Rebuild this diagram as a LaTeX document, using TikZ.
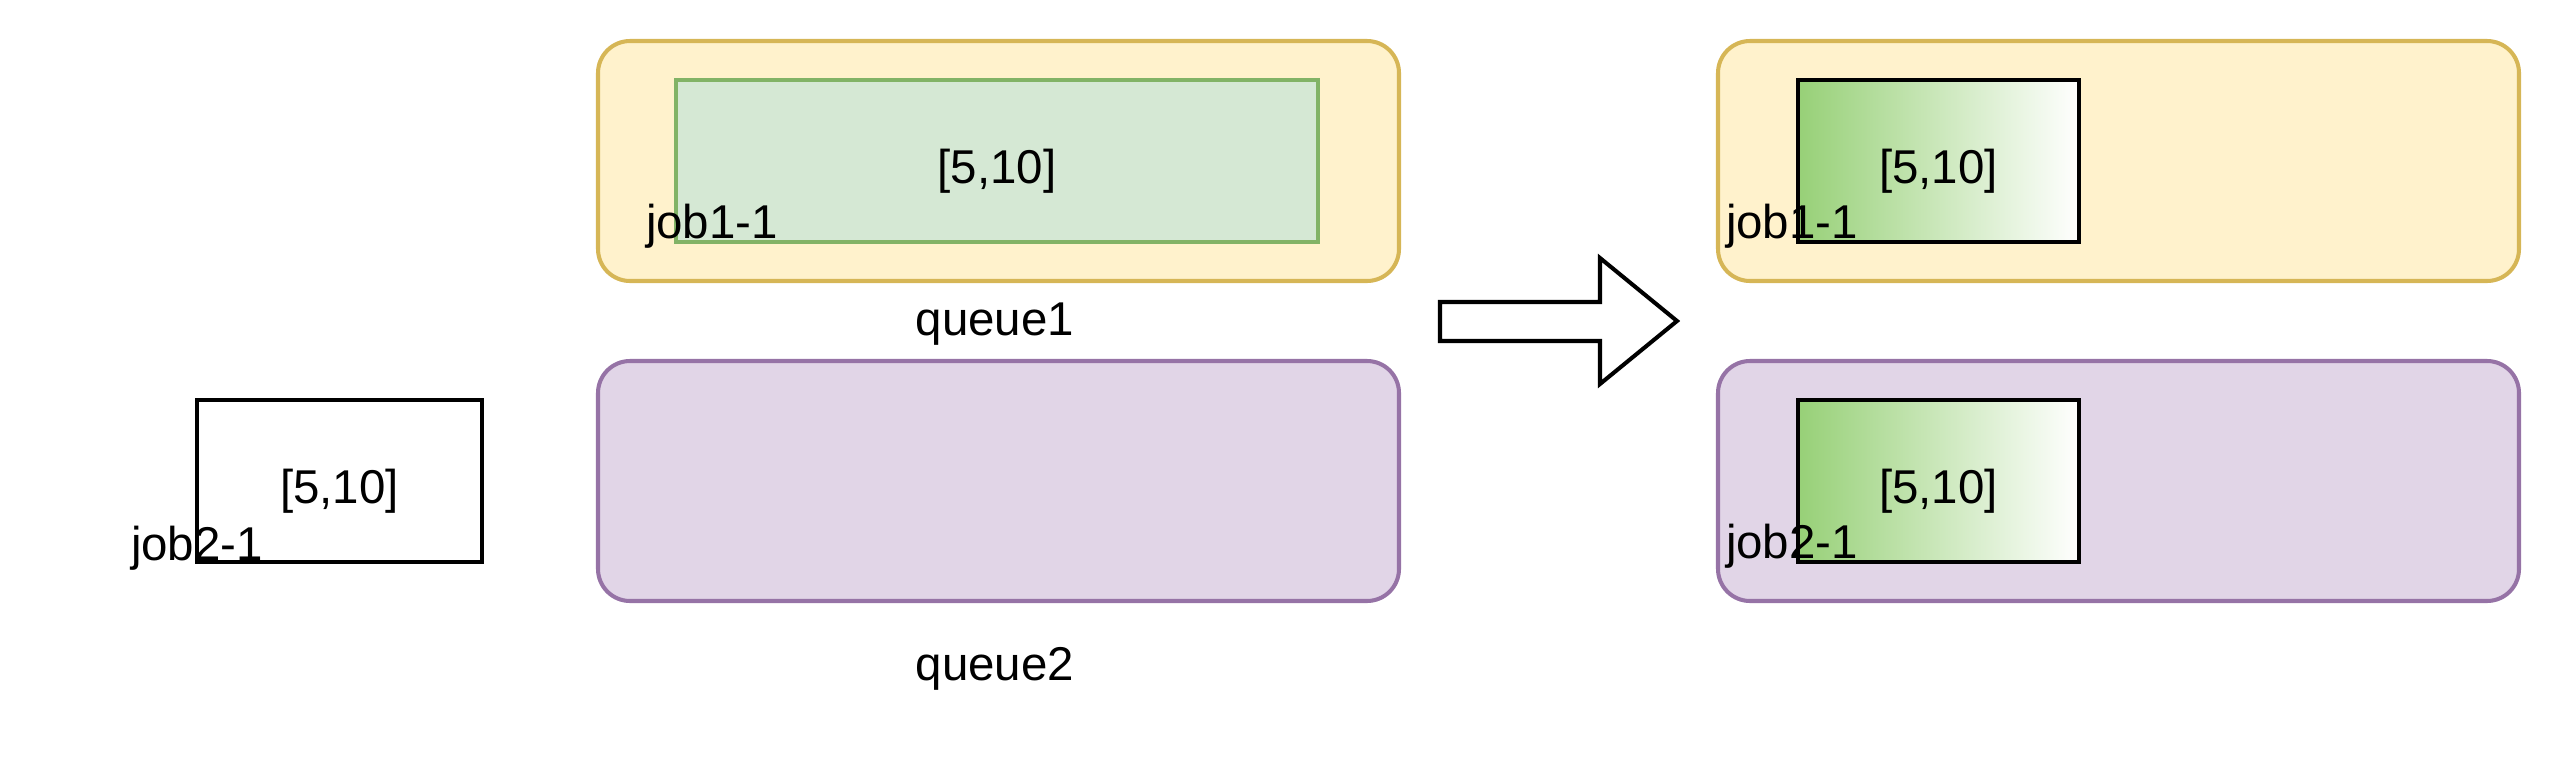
\documentclass[tikz,border=0pt]{standalone}
\usepackage{fontspec}
\setmainfont{Liberation Sans}
\begin{document}
\begin{tikzpicture}[x=0.1mm,y=-0.1mm,
  every node/.style={inner sep=0pt,outer sep=0pt,font=\fontsize{13.5pt}{16pt}\selectfont},
  boxtext/.style={text height=4.4mm,text depth=0mm},
  queuey/.style={draw=qyStroke,fill=qyFill,line width=1.15pt,rounded corners=3.2mm,minimum width=80.1mm,minimum height=24mm},
  queuep/.style={draw=qpStroke,fill=qpFill,line width=1.15pt,rounded corners=3.2mm,minimum width=80.1mm,minimum height=24mm},
  greenbox/.style={boxtext,draw=gStroke,fill=gFill,line width=1.15pt,minimum width=64.2mm,minimum height=16.2mm},
  plainbox/.style={boxtext,draw=black,fill=white,line width=1.15pt,minimum width=28.5mm,minimum height=16.2mm},
  gradbox/.style={boxtext,draw=black,left color=gradL,right color=white,line width=1.15pt,minimum width=28.1mm,minimum height=16.2mm},
  lbl/.style={anchor=base}
]
\definecolor{qyFill}{HTML}{FFF2CC}
\definecolor{qyStroke}{HTML}{D6B656}
\definecolor{qpFill}{HTML}{E1D5E7}
\definecolor{qpStroke}{HTML}{9673A6}
\definecolor{gFill}{HTML}{D5E8D4}
\definecolor{gStroke}{HTML}{82B366}
\definecolor{gradL}{HTML}{97D077}
\useasboundingbox (0,0) rectangle (2560,764);

% left side
\node[queuey] (q1L) at (998.5,161) {};
\node[greenbox] (j11L) at (997,161) {[5,10]};
\node[lbl] (j11Llbl) at (712,238) {job1-1};
\node[lbl] (q1Llbl) at (995,335) {queue1};
\node[queuep] (q2L) at (998.5,481) {};
\node[lbl] (q2Llbl) at (995,680) {queue2};

\node[plainbox] (j21) at (339.5,481) {[5,10]};
\node[lbl] (j21lbl) at (197,560) {job2-1};

% arrow
\draw[line width=1.15pt,fill=white,line join=miter]
  (1440,302) -- (1600,302) -- (1600,258) -- (1677,321) -- (1600,384) -- (1600,341) -- (1440,341) -- cycle;

% right side
\node[queuey] (q1R) at (2118.5,161) {};
\node[gradbox] (j11R) at (1938.5,161) {[5,10]};
\node[lbl] (j11Rlbl) at (1792,238) {job1-1};
\node[queuep] (q2R) at (2118.5,481) {};
\node[gradbox] (j21R) at (1938.5,481) {[5,10]};
\node[lbl] (j21Rlbl) at (1792,558) {job2-1};
\end{tikzpicture}
\end{document}
